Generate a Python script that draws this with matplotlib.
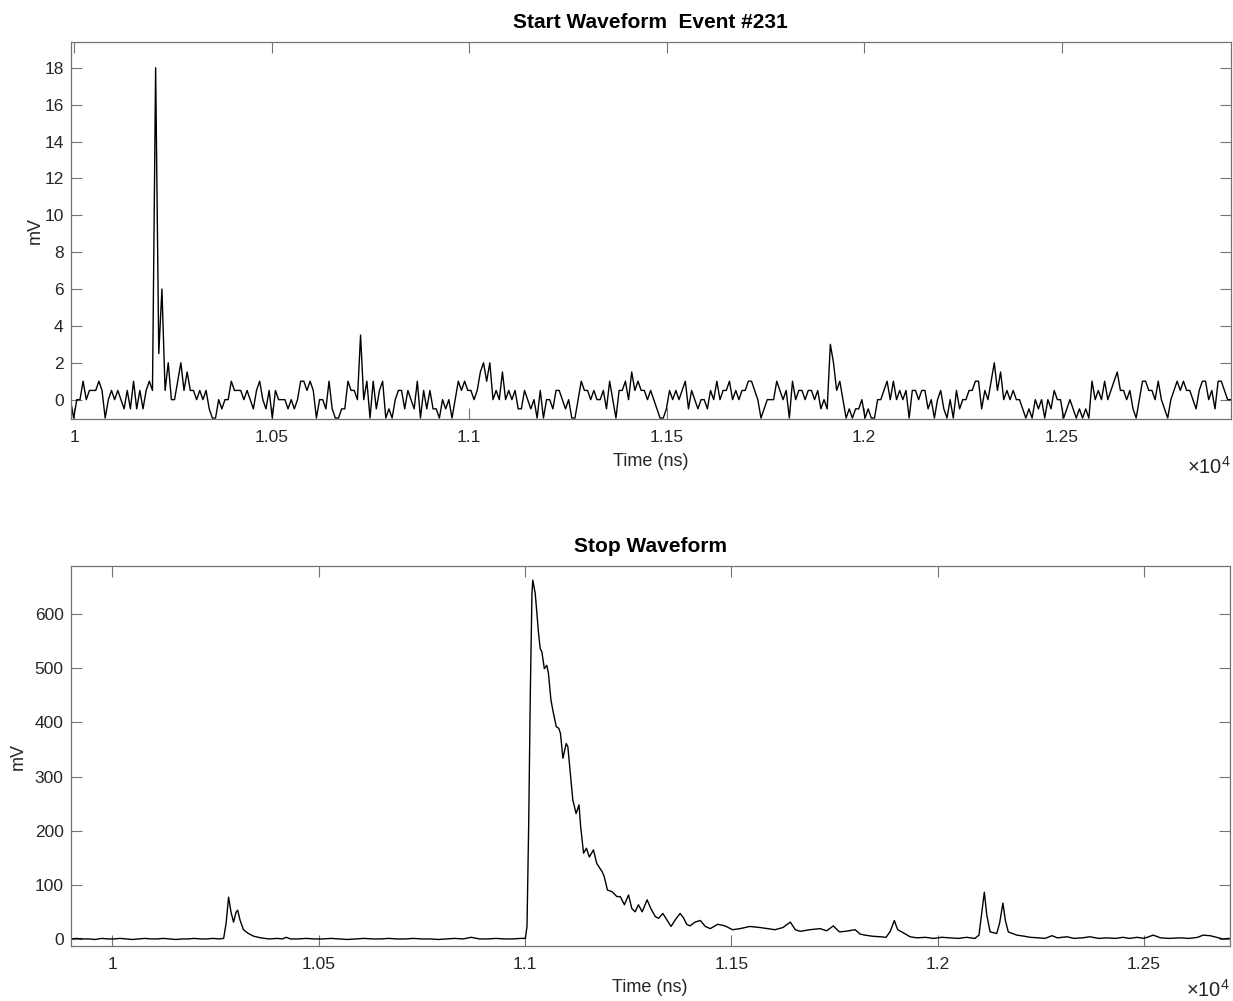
import numpy as np
import matplotlib
matplotlib.use("Agg")
import matplotlib.pyplot as plt

plt.rcParams['font.family'] = ['Liberation Sans', 'DejaVu Sans']
plt.rcParams['mathtext.fontset'] = 'custom'
plt.rcParams['mathtext.rm'] = 'Liberation Sans'
plt.rcParams['mathtext.it'] = 'Liberation Sans'

# ---------------- data ----------------
start_t0 = 9991.0      # ns, first sample time
start_dt = 7.98        # ns, sample spacing
start_mv = [
    0, -1, 0, 0, 1, 0, 0.5, 0.5, 0.5, 1,
    0.5, -1, 0, 0.5, 0, 0.5, 0, -0.5, 0.5, -0.5,
    1, -0.5, 0.5, -0.5, 0.5, 1, 0.5, 18, 2.5, 6,
    0.5, 2, 0, 0, 1, 2, 0.5, 1.5, 0.5, 0.5,
    0, 0.5, 0, 0.5, -0.5, -1, -1, 0, -0.5, 0,
    0, 1, 0.5, 0.5, 0.5, 0, 0.5, 0, -0.5, 0.5,
    1, 0, -0.5, 0.5, -1, 0.5, 0, 0, 0, -0.5,
    0, -0.5, 0, 1, 1, 0.5, 1, 0.5, -1, 0,
    0, -0.5, 1, -0.5, -1, -1, -0.5, -0.5, 1, 0.5,
    0.5, 0, 3.5, 0, 1, -1, 1, -0.5, 0.5, 1,
    -1, -0.5, -1, 0, 0.5, 0.5, -0.5, 0.5, 0, -0.5,
    1, -1, 0.5, -0.5, 0.5, -0.5, -0.5, -1, 0, -0.5,
    0, -1, 0, 1, 0.5, 1, 0.5, 0.5, 0, 0.5,
    1.5, 2, 1, 2, 0, 0.5, 0, 1.5, 0, 0.5,
    0, 0.5, -0.5, -0.5, 0.5, 0, -0.5, 0, -1, 0.5,
    -1, 0, 0, -0.5, 0.5, 0.5, 0, -0.5, 0, -1,
    -1, 0, 1, 0.5, 0.5, 0, 0.5, 0, 0, 0.5,
    -0.5, 1, 0, -1, 0.5, 0.5, 1, 0, 1.5, 0.5,
    1, 0.5, 0.5, 0, 0.5, 0, -0.5, -1, -1, -0.5,
    0.5, 0, 0.5, 0, 0.5, 1, -0.5, 0.5, 0, -0.5,
    0, 0, -0.5, 0.5, 0, 1, 0, 0.5, 0.5, 1,
    0, 0.5, 0, 0.5, 0.5, 1, 1, 0.5, 0, -1,
    -0.5, 0, 0, 0, 1, 0.5, 0, 0.5, -1, 1,
    0, 0.5, 0.5, 0, 0.5, 0.5, 0, 0.5, -0.5, 0,
    -0.5, 3, 2, 0.5, 1, 0, -1, -0.5, -1, -0.5,
    -0.5, 0, -1, -0.5, -1, -1, 0, 0, 0.5, 1,
    0, 1, 0, 0.5, 0, 0.5, -1, 0.5, 0.5, 0,
    0.5, 0.5, -0.5, 0, -1, 0, 0.5, -0.5, -1, 0,
    -1, 0.5, -0.5, 0, 0, 0.5, 0.5, 1, 1, -0.5,
    0.5, 0, 1, 2, 0.5, 1.5, 0, 0.5, 0, 0.5,
    0, 0, -0.5, -1, -0.5, -1, 0, -0.5, 0, -1,
    0, -0.5, 0.5, 0, 0, -1, -0.5, 0, -0.5, -1,
    -0.5, -1, -0.5, -1, 1, 0, 0.5, 0, 1, 0,
    0.5, 1, 1.5, 0.5, 0.5, 0, 0.5, -0.5, -1, 0,
    1, 1, 0.5, 0.5, 0, 1, 0, -0.5, -1, 0,
    0.5, 1, 0.5, 1, 0.5, 0.5, 0, -0.5, 0.5, 1,
    1, 0, 0.5, -0.5, 1, 1, 0.5, 0, 0,
]
start_t = start_t0 + start_dt * np.arange(len(start_mv))

stop_t = [
    9899, 9914, 9929, 9944, 9959, 9974, 9989, 10004, 10019, 10034,
    10049, 10064, 10079, 10094, 10109, 10124, 10139, 10154, 10169, 10184,
    10199, 10214, 10229, 10244, 10259, 10270,
    10276, 10282, 10288, 10294, 10300, 10304, 10310, 10318, 10330, 10343,
    10360, 10380, 10400, 10412, 10422, 10432,
    10450, 10470, 10490, 10510, 10530, 10550, 10570, 10590, 10610, 10630,
    10650, 10670, 10690, 10710, 10730, 10750, 10770, 10790, 10810, 10830,
    10850, 10870, 10890, 10910, 10930, 10950, 10970, 10990,
    11001, 11005, 11009, 11013, 11017, 11019, 11025, 11033, 11037, 11041,
    11047, 11053, 11057, 11063, 11069, 11076, 11082, 11086, 11092, 11100,
    11104, 11110, 11116, 11124, 11131, 11135, 11142, 11149, 11156, 11166,
    11174, 11187, 11192, 11200, 11211, 11223, 11231, 11241, 11251, 11259,
    11267, 11275, 11284, 11296, 11305, 11316, 11324, 11334, 11344, 11354,
    11364, 11376,
    11384, 11392, 11400, 11412, 11425, 11437, 11449, 11467, 11485, 11503,
    11521, 11545, 11570, 11588, 11606, 11625, 11643, 11655, 11667, 11690,
    11715, 11731, 11747, 11762, 11776, 11800, 11812, 11824, 11842, 11861,
    11875, 11885, 11895, 11903, 11913, 11933, 11950, 11970, 11990, 12010,
    12030, 12050, 12070, 12090, 12100, 12106, 12113, 12119, 12127, 12143,
    12150, 12158, 12164, 12171, 12192, 12210, 12224, 12245, 12260, 12277,
    12290, 12313, 12330, 12350, 12369, 12390, 12410, 12430, 12449, 12465,
    12483, 12500, 12522, 12540, 12560, 12587, 12610, 12630, 12643, 12660,
    12675, 12691, 12706,
]
stop_mv = [
    1, 2, 1, 1, 0, 2, 1, 1, 2, 1,
    0, 1, 2, 1, 1, 2, 1, 0, 1, 1,
    2, 1, 1, 2, 1, 2,
    30, 78, 50, 32, 50, 54, 35, 18, 11, 6,
    3, 1, 2, 1, 4, 1,
    1, 2, 1, 1, 2, 1, 0, 1, 2, 1,
    1, 2, 1, 1, 2, 1, 1, 0, 1, 2,
    1, 4, 1, 1, 2, 1, 1, 2,
    2, 24, 208, 453, 637, 662, 637, 564, 536, 530,
    499, 505, 490, 441, 417, 392, 389, 380, 334, 361,
    355, 306, 257, 232, 248, 208, 159, 168, 152, 165,
    140, 125, 116, 91, 88, 79, 79, 64, 82, 57,
    51, 64, 51, 73, 57, 42, 39, 48, 36, 24,
    36, 48,
    40, 28, 25, 32, 35, 24, 20, 28, 25, 18,
    20, 24, 22, 20, 18, 22, 32, 18, 15, 18,
    20, 16, 25, 14, 15, 18, 10, 8, 6, 5,
    4, 15, 35, 18, 14, 5, 3, 4, 2, 4,
    3, 2, 4, 2, 8, 45, 87, 45, 14, 11,
    30, 67, 35, 14, 8, 6, 4, 3, 2, 7,
    3, 5, 2, 3, 5, 2, 3, 2, 4, 2,
    4, 2, 8, 3, 2, 3, 2, 4, 8, 7,
    4, 1, 2,
]

x_ticks = [10000, 10500, 11000, 11500, 12000, 12500]
x_labels = ['1', '1.05', '1.1', '1.15', '1.2', '1.25']
start_yticks = [0, 2, 4, 6, 8, 10, 12, 14, 16, 18]
stop_yticks = [0, 100, 200, 300, 400, 500, 600]

# ---------------- figure ----------------
W, H = 1233, 1001
fig = plt.figure(figsize=(W / 100, H / 100), dpi=100)

def px_axes(l, t, r, b):
    return fig.add_axes([l / W, 1 - b / H, (r - l) / W, (b - t) / H])

ax1 = px_axes(70.5, 42, 1230.5, 419)
ax2 = px_axes(70.5, 566, 1229.5, 946)

txt_col = '0.15'
spine_col = '0.45'

def style(ax, yticks, xlim, ylim, title, ylab_x, xlab_y, off_y):
    ax.set_xlim(*xlim)
    ax.set_ylim(*ylim)
    ax.set_xticks(x_ticks)
    ax.set_xticklabels(x_labels)
    ax.set_yticks(yticks)
    ax.tick_params(direction='in', top=True, right=True, length=8,
                   width=0.8, color=spine_col, labelsize=12.5,
                   labelcolor=txt_col)
    ax.tick_params(axis='x', pad=8)
    ax.tick_params(axis='y', pad=5)
    for s in ax.spines.values():
        s.set_color(spine_col)
        s.set_linewidth(0.9)
    ax.set_xlabel('Time (ns)', fontsize=13, color=txt_col)
    ax.set_ylabel('mV', fontsize=13, color=txt_col)
    ax.xaxis.set_label_coords(0.5, xlab_y)
    ax.yaxis.set_label_coords(ylab_x, 0.5)
    ax.xaxis.label.set_va('center')
    ax.yaxis.label.set_va('center')
    ax.set_title(title, fontsize=15, fontweight='bold', color='black',
                 pad=10)
    ax.text(1.0, off_y, r'$\times10^{4}$', transform=ax.transAxes,
            ha='right', va='center', fontsize=14.5, color=txt_col)

ax1.plot(start_t, start_mv, color='black', lw=1.0)
style(ax1, start_yticks, (9991, 12927), (-1.05, 19.4),
      'Start Waveform  Event #231', -0.0305, -0.114, -0.128)

ax2.plot(stop_t, stop_mv, color='black', lw=1.0)
style(ax2, stop_yticks, (9899, 12707), (-12, 688), 'Stop Waveform',
      -0.0453, -0.108, -0.116)

fig.savefig('out.png', dpi=100)
